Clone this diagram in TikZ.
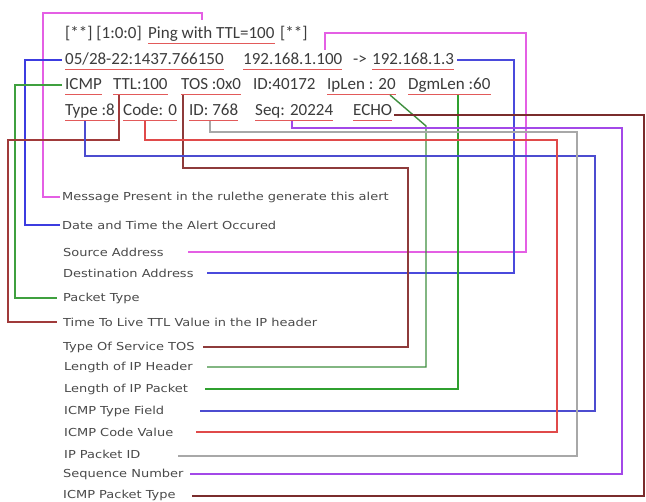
\documentclass[tikz,border=0pt]{standalone}
\usepackage{fontspec}
\setmainfont{Carlito}
\newfontfamily\lblfont[FakeStretch=1.18]{DejaVu Sans}
\definecolor{txt}{HTML}{3C3C3C}
\definecolor{lbltxt}{HTML}{4A4A4A}
\definecolor{ulred}{HTML}{E25A5A}
\definecolor{cMag}{HTML}{E45FE4}
\definecolor{cBlue}{HTML}{3C3CE0}
\definecolor{cBlueD}{HTML}{4A4ADC}
\definecolor{cGreen}{HTML}{3FA03F}
\definecolor{cBrown}{HTML}{A03A3A}
\definecolor{cBrownD}{HTML}{8E3B3B}
\definecolor{cGreenD}{HTML}{3F8F3F}
\definecolor{cGreenB}{HTML}{2FA02F}
\definecolor{cBlueT}{HTML}{4C4CD0}
\definecolor{cRed}{HTML}{E04A4A}
\definecolor{cGray}{HTML}{A8A8A8}
\definecolor{cPurple}{HTML}{A348E8}
\definecolor{cBrownE}{HTML}{7A2C2C}
\begin{document}
\begin{tikzpicture}[x=1pt,y=-1pt,
  tok/.style={anchor=base west, inner sep=0pt, font=\fontsize{17}{20}\selectfont, text=txt},
  lbl/.style={anchor=west, inner sep=0pt, font=\lblfont\fontsize{11}{13}\selectfont, text=lbltxt},
  conn/.style={line width=1.4pt},
  ul/.style={line width=1.2pt, draw=ulred}]
\useasboundingbox[fill=white] (0,0) rectangle (646,502);

% ---- log text ----
\node[tok] (hd)   at (65,39)  {[**] [1:0:0]};
\node[tok] (ping) at (148,39) {Ping with TTL=100};
\node[tok] (tl)   at (280,39) {[**]};
\node[tok] (date) at (65,65)  {05/28-22:1437.766150};
\node[tok] (sip)  at (243,65) {192.168.1.100};
\node[tok] (arr)  at (353,65) {->};
\node[tok] (dip)  at (372,65) {192.168.1.3};
\node[tok] (icmp) at (65,90)  {ICMP};
\node[tok] (ttl)  at (113,90) {TTL:100};
\node[tok] (tos)  at (181,90) {TOS :0x0};
\node[tok] (id1)  at (253,90) {ID:40172};
\node[tok] (ipl)  at (327,90) {IpLen : 20};
\node[tok] (dgm)  at (408,90) {DgmLen :60};
\node[tok] (typ)  at (65,116) {Type :8};
\node[tok] (code) at (123,116){Code: 0};
\node[tok] (id2)  at (189,116){ID: 768};
\node[tok] (seq)  at (255,116){Seq: 20224};
\node[tok] (echo) at (353,116){ECHO};

% underlines
\foreach \n in {ping,date,sip,dip,icmp,ttl,tos,ipl,dgm,typ,code,id2,seq,echo}{
  \draw[ul] ([yshift=-4.5pt]\n.base west) -- ([yshift=-4.5pt]\n.base east);
}

% ---- labels ----
\node[lbl] (lmsg)  at (62,197) {Message Present in the rulethe generate this alert};
\node[lbl] (ldate) at (62,225) {Date and Time the Alert Occured};
\node[lbl] (lsrc)  at (63,252) {Source Address};
\node[lbl] (ldst)  at (63,273) {Destination Address};
\node[lbl] (lpt)   at (63,298) {Packet Type};
\node[lbl] (lttl)  at (63,322) {Time To Live TTL Value in the IP header};
\node[lbl] (ltos)  at (63,347) {Type Of Service TOS};
\node[lbl] (lhdr)  at (64,367) {Length of IP Header};
\node[lbl] (lpkt)  at (64,389) {Length of IP Packet};
\node[lbl] (lity)  at (64,411) {ICMP Type Field};
\node[lbl] (licv)  at (64,432) {ICMP Code Value};
\node[lbl] (lid)   at (64,454) {IP Packet ID};
\node[lbl] (lseq)  at (63,474) {Sequence Number};
\node[lbl] (lipt)  at (63,495) {ICMP Packet Type};

% free ends of connectors beside the labels
\coordinate (esrc) at (188,252);
\coordinate (edst) at (207,273);
\coordinate (etos) at (203,347);
\coordinate (ehdr) at (207,367);
\coordinate (epkt) at (205,389);
\coordinate (eity) at (200,411);
\coordinate (eicv) at (196,432);
\coordinate (eid)  at (178,456);
\coordinate (eseq) at (190,474);
\coordinate (eipt) at (192,496);

% ---- connectors ----
\draw[conn,cMag]    (202,20) |- (43,13) |- ([xshift=-2pt]lmsg.west);
\draw[conn,cBlue]   ([shift={(-3pt,5pt)}]date.base west) -| (25,225) -- ([xshift=-2pt]ldate.west);
\draw[conn,cMag]    (325,50) |- (526,33) |- (esrc);
\draw[conn,cBlueD]  ([shift={(3pt,5pt)}]dip.base east) -| (514,273) -- (edst);
\draw[conn,cGreen]  ([shift={(-3pt,5pt)}]icmp.base west) -| (15,298) -- ([xshift=-6pt]lpt.west);
\draw[conn,cBrown]  (119,95) |- (8,140) |- ([xshift=-6pt]lttl.west);
\draw[conn,cBrownD] (183,95) |- (408,168) |- (etos);
\draw[conn,cGreenD] (390,95) -- (426,126) |- (ehdr);
\draw[conn,cGreenB] (458,95) |- (epkt);
\draw[conn,cBlueT]  (85,121) |- (595,156) |- (eity);
\draw[conn,cRed]    (145,121) |- (557,140) |- (eicv);
\draw[conn,cGray]   (210,121) |- (577,132) |- (eid);
\draw[conn,cPurple] (292,121) |- (622,128) |- (eseq);
\draw[conn,cBrownE] ([shift={(2pt,1pt)}]echo.base east) -- (644,115) |- (eipt);
\end{tikzpicture}
\end{document}
